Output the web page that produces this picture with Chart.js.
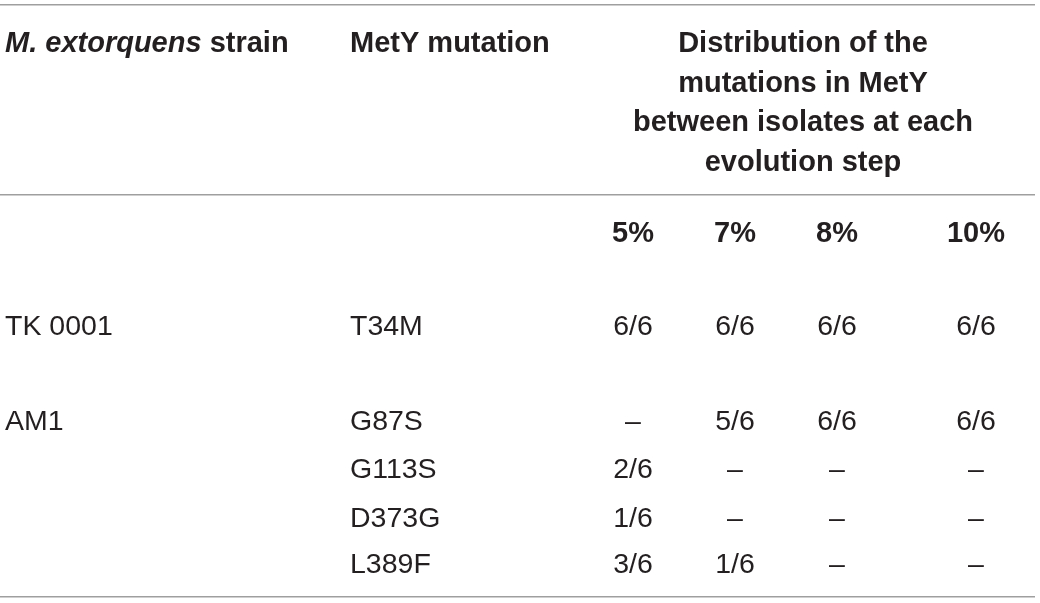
<!DOCTYPE html>
<html>
<head>
<meta charset="utf-8">
<script src="https://cdn.jsdelivr.net/npm/chart.js@4.4.0/dist/chart.umd.min.js"></script>
<style>
  html, body { margin: 0; background: #fff; }
  #wrap { width: 1040px; height: 603px; }
</style>
</head>
<body>
<div id="wrap"><canvas id="table"></canvas></div>
<script>
// table content
const strainHeader = [{ t: 'M. extorquens', italic: true }, { t: ' strain' }];
const mutationHeader = 'MetY mutation';
const distributionHeader = ['Distribution of the', 'mutations in MetY', 'between isolates at each', 'evolution step'];
const steps = ['5%', '7%', '8%', '10%'];
const strains = ['TK 0001', 'AM1', '', '', ''];
const mutations = ['T34M', 'G87S', 'G113S', 'D373G', 'L389F'];
const at5 = ['6/6', '–', '2/6', '1/6', '3/6'];
const at7 = ['6/6', '5/6', '–', '–', '1/6'];
const at8 = ['6/6', '6/6', '–', '–', '–'];
const at10 = ['6/6', '6/6', '–', '–', '–'];

// layout (in scale units = page pixels)
const colStrain = 5, colMutation = 350, colDist = 803;
const colSteps = [633, 735, 837, 976];
const headLines = [44, 84, 123, 163];
const stepRow = 234;
const bodyRows = [327, 422, 470, 519, 565];
const rules = [5, 195, 597];

const FAMILY = '"Liberation Sans", Arial, Helvetica, sans-serif';
const INK = '#231f20';
const bold = { size: 29, weight: 'bold' };
const plain = { size: 28.5, weight: 'normal' };

const cell = (x, y, text, font, align) => ({ x, y, text, font, align });

const headCells = [
  cell(colStrain, headLines[0], strainHeader, bold, 'left'),
  cell(colMutation, headLines[0], mutationHeader, bold, 'left'),
  ...distributionHeader.map((t, i) => cell(colDist, headLines[i], t, bold, 'center')),
  ...steps.map((t, i) => cell(colSteps[i], stepRow, t, bold, 'center'))
];
const bodyCells = [
  ...strains.map((t, i) => cell(colStrain, bodyRows[i], t, plain, 'left')),
  ...mutations.map((t, i) => cell(colMutation, bodyRows[i], t, plain, 'left')),
  ...[at5, at7, at8, at10].flatMap((col, c) =>
    col.map((t, i) => cell(colSteps[c], bodyRows[i], t, plain, 'center')))
];

const cellText = {
  id: 'cellText',
  afterDatasetsDraw(chart) {
    const ctx = chart.ctx;
    ctx.save();
    ctx.fillStyle = INK;
    ctx.textBaseline = 'middle';
    chart.data.datasets.forEach((ds, d) => {
      chart.getDatasetMeta(d).data.forEach((el, i) => {
        const c = ds.data[i];
        const parts = Array.isArray(c.text) ? c.text : [{ t: c.text }];
        const fontOf = p => (p.italic ? 'italic ' : '') + c.font.weight + ' ' + c.font.size + 'px ' + FAMILY;
        let width = 0;
        parts.forEach(p => { ctx.font = fontOf(p); width += ctx.measureText(p.t).width; });
        let x = c.align === 'center' ? el.x - width / 2 : el.x;
        ctx.textAlign = 'left';
        parts.forEach(p => {
          ctx.font = fontOf(p);
          ctx.fillText(p.t, x, el.y);
          x += ctx.measureText(p.t).width;
        });
      });
    });
    ctx.restore();
  }
};

new Chart(document.getElementById('table'), {
  type: 'scatter',
  data: {
    datasets: [
      { label: 'header', data: headCells, pointRadius: 0 },
      { label: 'body', data: bodyCells, pointRadius: 0 }
    ]
  },
  options: {
    responsive: true,
    maintainAspectRatio: false,
    animation: false,
    layout: { padding: { left: 0, right: 5, top: 0, bottom: 0 } },
    plugins: { legend: { display: false }, tooltip: { enabled: false } },
    events: [],
    scales: {
      x: { type: 'linear', min: 0, max: 1035, display: false },
      y: {
        type: 'linear', min: 0, max: 603, reverse: true,
        afterBuildTicks: s => { s.ticks = rules.map(v => ({ value: v })); },
        ticks: { display: false },
        border: { display: false },
        grid: { color: '#9f9f9f', lineWidth: 1.5, drawTicks: false }
      }
    }
  },
  plugins: [cellText]
});
</script>
</body>
</html>
